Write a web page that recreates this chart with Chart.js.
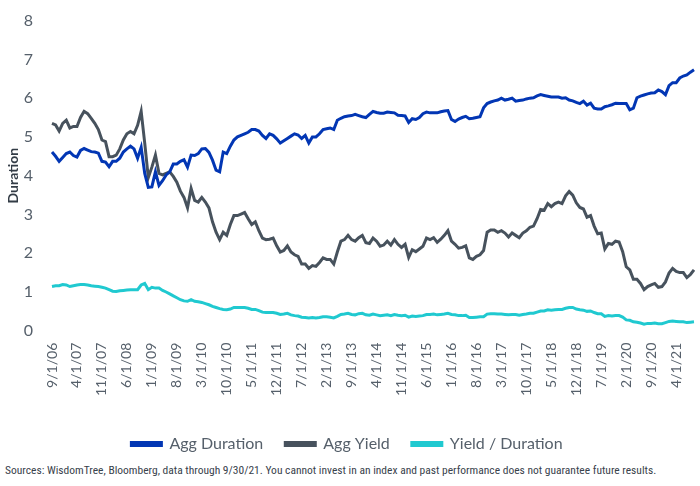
<!DOCTYPE html>
<html>
<head>
<meta charset="utf-8">
<script src="https://cdn.jsdelivr.net/npm/chart.js@4.4.1/dist/chart.umd.min.js"></script>
<style>
  html, body { margin:0; padding:0; background:#fff; }
  #wrap { position:relative; width:700px; height:462px; }
  #note { position:absolute; left:5px; top:463px; font-family:"Liberation Sans Narrow","Roboto Condensed","Liberation Sans",sans-serif; font-size:11.5px; color:#39424c; white-space:nowrap; }
</style>
</head>
<body>
<div id="wrap"><canvas id="chart"></canvas></div>
<div id="note">Sources: WisdomTree, Bloomberg, data through 9/30/21. You cannot invest in an index and past performance does not guarantee future results.</div>
<script>
// -------- Datos mensuales 9/1/06 .. 9/1/21 --------
const START_YEAR = 2006, START_MONTH = 9;

const aggDuration = [
  4.61,4.50,4.37,4.47,4.57,4.61,4.52,4.48,4.65,4.70,4.66,4.62,4.61,4.58,4.37,4.35,4.23,4.37,4.37,4.45,
  4.61,4.69,4.76,4.69,4.45,4.73,4.06,3.70,3.71,4.10,3.75,3.87,4.02,4.10,4.30,4.30,4.37,4.41,4.22,4.53,
  4.52,4.57,4.69,4.70,4.60,4.40,4.14,4.10,4.61,4.57,4.76,4.92,5.00,5.04,5.08,5.12,5.19,5.19,5.15,5.04,
  4.96,5.08,5.04,4.95,4.84,4.90,4.96,5.02,5.08,5.05,4.96,5.04,4.84,5.00,5.00,5.08,5.19,5.21,5.23,5.19,
  5.43,5.48,5.52,5.54,5.55,5.58,5.55,5.52,5.50,5.58,5.66,5.63,5.61,5.61,5.64,5.63,5.62,5.56,5.55,5.54,
  5.37,5.47,5.45,5.50,5.60,5.64,5.62,5.62,5.62,5.65,5.67,5.68,5.45,5.40,5.46,5.50,5.53,5.47,5.48,5.50,
  5.52,5.75,5.86,5.90,5.93,5.95,6.00,5.95,5.97,6.00,5.92,5.94,5.95,5.98,6.00,6.01,6.06,6.09,6.07,6.05,
  6.03,6.03,6.03,6.00,6.01,5.95,5.93,5.89,5.86,5.92,5.82,5.87,5.74,5.72,5.72,5.78,5.80,5.83,5.87,5.86,
  5.86,5.86,5.70,5.74,6.01,6.05,6.08,6.11,6.13,6.14,6.21,6.17,6.09,6.32,6.40,6.40,6.52,6.57,6.60,6.67,
  6.73
];

const aggYield = [
  5.35,5.31,5.15,5.35,5.43,5.23,5.27,5.27,5.50,5.66,5.60,5.48,5.35,5.19,4.92,4.88,4.49,4.49,4.53,4.69,
  4.92,5.08,5.14,5.08,5.30,5.66,4.84,3.95,4.22,4.53,4.06,4.02,4.06,4.10,3.98,3.83,3.60,3.44,3.17,3.67,
  3.36,3.32,3.44,3.32,3.17,2.81,2.54,2.35,2.54,2.46,2.74,2.97,2.97,3.01,3.05,2.89,2.74,2.81,2.58,2.39,
  2.35,2.36,2.39,2.19,2.03,2.07,2.19,2.03,1.96,1.92,1.72,1.72,1.61,1.68,1.66,1.76,1.88,1.84,1.84,1.72,
  2.03,2.31,2.35,2.46,2.35,2.31,2.40,2.46,2.27,2.25,2.39,2.31,2.18,2.21,2.31,2.21,2.35,2.23,2.15,2.23,
  1.89,2.09,2.04,2.11,2.18,2.39,2.35,2.40,2.28,2.36,2.46,2.58,2.31,2.23,2.13,2.15,2.19,1.88,1.84,1.92,
  1.96,2.07,2.54,2.60,2.60,2.54,2.58,2.52,2.42,2.52,2.46,2.40,2.52,2.58,2.67,2.70,2.89,3.13,3.11,3.28,
  3.20,3.28,3.32,3.28,3.48,3.59,3.50,3.30,3.18,3.14,2.93,2.97,2.70,2.50,2.52,2.11,2.25,2.23,2.31,2.29,
  2.04,1.65,1.57,1.33,1.33,1.22,1.06,1.14,1.18,1.22,1.12,1.14,1.26,1.49,1.61,1.53,1.50,1.50,1.37,1.45,
  1.57
];

const yieldPerDuration = [
  1.14,1.16,1.16,1.19,1.18,1.14,1.16,1.18,1.19,1.19,1.18,1.16,1.15,1.14,1.12,1.10,1.06,1.02,1.01,1.03,
  1.04,1.05,1.06,1.06,1.06,1.18,1.22,1.06,1.12,1.10,1.10,1.04,1.00,0.95,0.90,0.85,0.80,0.77,0.76,0.80,
  0.76,0.75,0.73,0.70,0.67,0.63,0.60,0.57,0.55,0.54,0.56,0.60,0.60,0.60,0.60,0.58,0.55,0.55,0.52,0.48,
  0.47,0.47,0.47,0.45,0.42,0.43,0.45,0.41,0.39,0.38,0.35,0.34,0.33,0.34,0.33,0.34,0.36,0.36,0.35,0.33,
  0.37,0.42,0.43,0.45,0.42,0.41,0.44,0.45,0.41,0.40,0.43,0.41,0.39,0.40,0.41,0.39,0.42,0.40,0.39,0.40,
  0.35,0.38,0.37,0.38,0.39,0.42,0.42,0.43,0.41,0.42,0.43,0.45,0.42,0.41,0.39,0.39,0.40,0.34,0.34,0.35,
  0.36,0.36,0.43,0.44,0.44,0.43,0.43,0.42,0.41,0.42,0.42,0.40,0.42,0.43,0.45,0.45,0.48,0.51,0.51,0.54,
  0.53,0.54,0.55,0.55,0.58,0.60,0.60,0.56,0.54,0.53,0.50,0.51,0.47,0.44,0.44,0.37,0.39,0.38,0.39,0.39,
  0.35,0.28,0.27,0.23,0.22,0.20,0.17,0.19,0.19,0.20,0.18,0.18,0.21,0.24,0.25,0.24,0.23,0.23,0.21,0.22,
  0.23
];

// Etiquetas M/1/YY
const labels = aggDuration.map((_, i) => {
  const m = (START_MONTH - 1 + i) % 12 + 1;
  const y = START_YEAR + Math.floor((START_MONTH - 1 + i) / 12);
  return `${m}/1/${String(y).slice(2)}`;
});

const TICK_EVERY = 7;
const FONT = "Lato, 'Open Sans', sans-serif";
const TXT = "#56606b";

const ds = (label, data, color) => ({
  label, data, borderColor: color, backgroundColor: color,
  borderWidth: 3, pointRadius: 0, tension: 0, fill: false
});

new Chart(document.getElementById("chart").getContext("2d"), {
  type: "line",
  data: {
    labels,
    datasets: [
      ds("Agg Duration", aggDuration, "#0236b4"),
      ds("Agg Yield", aggYield, "#47525d"),
      ds("Yield / Duration", yieldPerDuration, "#20c9d0")
    ]
  },
  options: {
    responsive: true, maintainAspectRatio: false, animation: false,
    layout: { padding: { top: -10, right: 6, left: 0, bottom: 0 } },
    plugins: {
      tooltip: { enabled: false },
      legend: {
        position: "bottom",
        labels: { boxWidth: 30, boxHeight: 3, padding: 22, color: TXT, font: { family: FONT, size: 16 } }
      }
    },
    scales: {
      x: {
        grid: { display: false }, border: { display: false },
        afterFit: (scale) => { scale.height += 14; scale.paddingLeft = 0; scale.paddingRight = 0; },
        ticks: {
          autoSkip: false, maxRotation: 90, minRotation: 90, padding: 4,
          color: TXT, font: { family: FONT, size: 14 },
          callback: (v, i) => i % TICK_EVERY === 0 ? labels[i] : ""
        }
      },
      y: {
        min: 0, max: 8,
        grid: { display: false }, border: { display: false },
        afterFit: (scale) => { scale.width = 52; },
        ticks: { stepSize: 1, padding: 11, color: TXT, font: { family: FONT, size: 16 } },
        title: { display: true, text: "Duration", color: "#333c46", font: { family: FONT, size: 14, weight: "bold" }, padding: 5 }
      }
    }
  }
});
</script>
</body>
</html>
